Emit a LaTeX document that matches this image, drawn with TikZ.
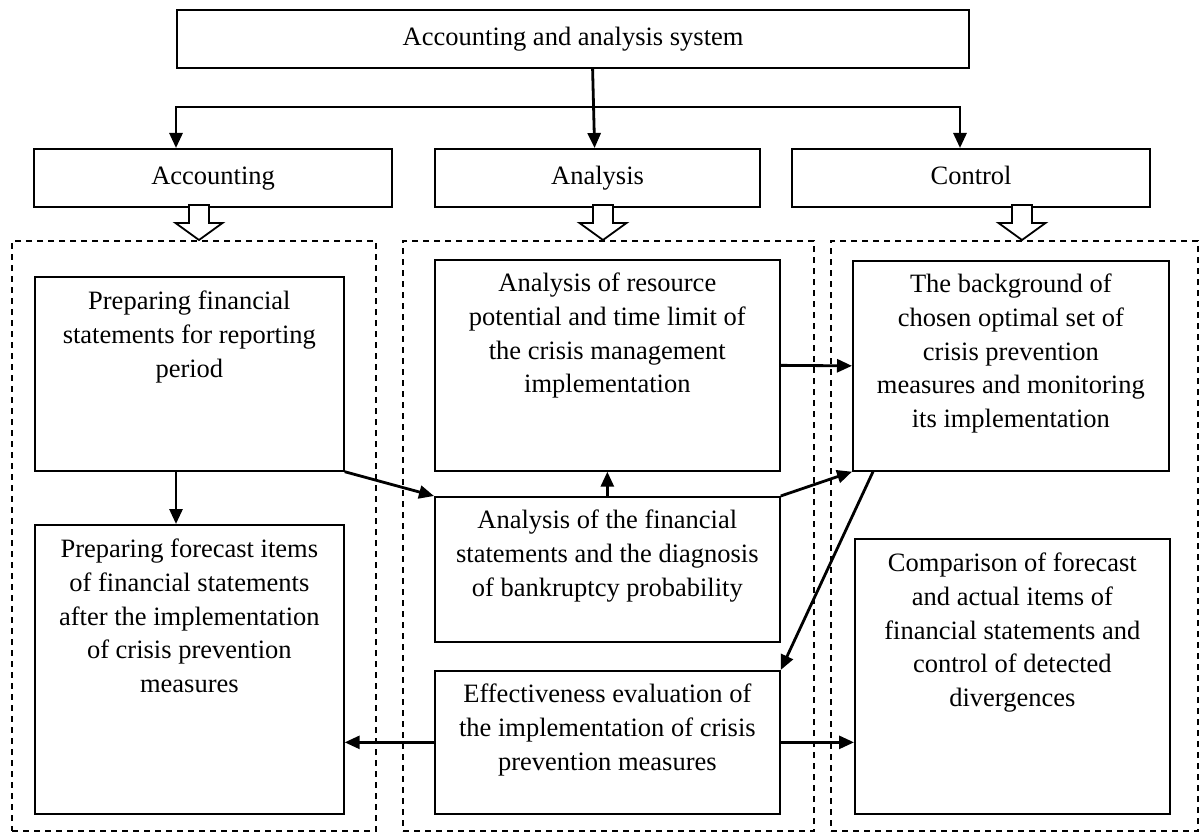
\documentclass[tikz,border=0pt]{standalone}
\usepackage{fontspec}
\setmainfont{Liberation Serif}
\usetikzlibrary{arrows.meta,positioning}
\tikzset{
    %Define standard arrow tip
    >={Triangle[length=15pt,width=13pt]},
    %Define font for all texts
    fnt/.style={font=\fontsize{26.5}{33.6}\selectfont},
    % Define arrow style
    pil/.style={
           ->,
           line width=2.8pt}
}
\begin{document}
\begin{tikzpicture}[x=1pt, y=1pt,
hbox/.style={draw=black, line width=2.2pt, anchor=north west, inner sep=0pt, minimum height=58pt, text height=18pt, text depth=6pt, fnt},
ibox/.style={draw=black, line width=1.7pt, anchor=north west, inner sep=0pt},
dbox/.style={draw=black, line width=2.2pt, dash pattern=on 6pt off 5pt, anchor=north west, inner sep=0pt, minimum height=590pt},
txt/.style={align=center, inner sep=0pt, anchor=north, fnt},
hul/.style={draw=black, fill=white, line width=1.8pt}
]
\useasboundingbox (0,0) rectangle (1199,-832);
%Top rows
\node[hbox, minimum width=792pt] (sys) at (176,-9) {Accounting and analysis system};
\node[hbox, minimum width=358pt] (acc) at (33,-148) {Accounting};
\node[hbox, minimum width=325pt] (ana) at (434,-148) {Analysis};
\node[hbox, minimum width=358pt] (ctl) at (791,-148) {Control};
%Dashed columns
\node[dbox, minimum width=364pt] (dl) at (11,-240) {};
\node[dbox, minimum width=411pt] (dm) at (402,-240) {};
\node[dbox, minimum width=367pt] (dr) at (830,-240) {};
%Boxes
\node[ibox, minimum width=309pt, minimum height=194pt] (prep) at (34,-276) {};
\node[ibox, minimum width=309pt, minimum height=289pt] (fcst) at (34,-524) {};
\node[ibox, minimum width=345pt, minimum height=211pt] (res) at (434,-259) {};
\node[ibox, minimum width=345pt, minimum height=145pt] (diag) at (434,-496) {};
\node[ibox, minimum width=345pt, minimum height=143pt] (eff) at (434,-670) {};
\node[ibox, minimum width=316pt, minimum height=210pt] (bgr) at (852,-260) {};
\node[ibox, minimum width=315pt, minimum height=275pt] (cmp) at (854,-538) {};
%Texts
\node[txt] (prept) [below=15pt of prep.north] {Preparing financial\\statements for reporting\\period};
\node[txt] (fcstt) [below=15pt of fcst.north] {Preparing forecast items\\of financial statements\\after the implementation\\of crisis prevention\\measures};
\node[txt] (rest) [below=14pt of res.north] {Analysis of resource\\potential and time limit of\\the crisis management\\implementation};
\node[txt] (diagt) [below=14pt of diag.north] {Analysis of the financial\\statements and the diagnosis\\of bankruptcy probability};
\node[txt] (efft) [below=14pt of eff.north] {Effectiveness evaluation of\\the implementation of crisis\\prevention measures};
\node[txt] (bgrt) [below=14pt of bgr.north] {The background of\\chosen optimal set of\\crisis prevention\\measures and monitoring\\its implementation};
\node[txt] (cmpt) [below=15pt of cmp.north] {Comparison of forecast\\and actual items of\\financial statements and\\control of detected\\divergences};
%Arrows
\coordinate (jl) at (176,-107);
\coordinate (jr) at (960,-107);
\draw[pil, <->] (jl |- acc.north) -- (jl) -- (jr) -- (jr |- ctl.north);
\draw[pil] ([xshift=-5pt]sys.south -| ana.north) -- ([xshift=-3pt]ana.north);
\foreach \x in {199,603,1022}
  \draw[hul] (\x,-240) -- ++(-23.5,17) -- ++(13.5,0) -- ++(0,18) -- ++(20,0) -- ++(0,-18) -- ++(13.5,0) -- cycle;
\draw[pil] (prep.south -| jl) -- (fcst.north -| jl);
\draw[pil] (prep.south east) -- (diag.north west);
\draw[pil] (diag.north) -- (res.south);
\draw[pil] (diag.north east) -- (bgr.south west);
\draw[pil] (res.east) -- (bgr.west);
\draw[pil] ([xshift=21pt]bgr.south west) -- (eff.north east);
\draw[pil] (eff.west) -- (eff.west -| fcst.east);
\draw[pil] (eff.east) -- (eff.east -| cmp.west);
\end{tikzpicture}
\end{document}
